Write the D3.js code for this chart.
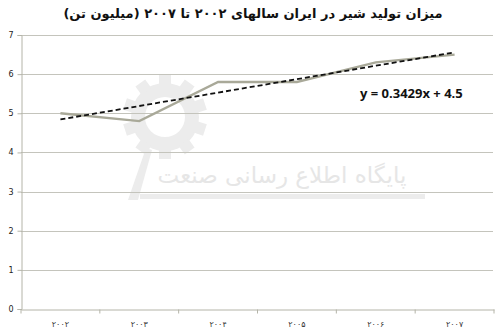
<!DOCTYPE html>
<html>
<head>
<meta charset="utf-8">
<script src="https://cdn.jsdelivr.net/npm/d3@7"></script>
<style>
  body { margin: 0; background: #fff; }
  svg { display: block; }
</style>
</head>
<body>
<div id="chart"></div>
<script>
// chart data
const years = ["۲۰۰۲", "۲۰۰۳", "۲۰۰۴", "۲۰۰۵", "۲۰۰۶", "۲۰۰۷"];
const production = [5.0, 4.8, 5.8, 5.8, 6.3, 6.5];
const yTicks = [0, 1, 2, 3, 4, 5, 6, 7];
const title = "میزان تولید شیر در ایران سالهای ۲۰۰۲ تا ۲۰۰۷  (میلیون تن)";
const watermarkText = "پایگاه اطلاع رسانی صنعت";

const W = 500, H = 336;
const margin = {top: 35, right: 6, bottom: 27, left: 21};

const svg = d3.select("#chart").append("svg")
    .attr("width", W)
    .attr("height", H);

const x = d3.scaleBand()
    .domain(years)
    .range([margin.left, W - margin.right]);

const y = d3.scaleLinear()
    .domain([0, 7])
    .range([H - margin.bottom, margin.top]);

// faint watermark (gear + text)
const wm = svg.append("g").attr("fill", "#ececec");
const gearR = 34;
const gear = wm.append("g").attr("transform", "translate(165,117)");
gear.append("path")
    .attr("d", d3.arc()({innerRadius: 20, outerRadius: gearR, startAngle: 0, endAngle: 2 * Math.PI}));
d3.range(10).forEach(i => {
    gear.append("rect")
        .attr("x", -6).attr("y", -gearR - 8)
        .attr("width", 12).attr("height", 10)
        .attr("transform", `rotate(${i * 36})`);
});
wm.append("path")
    .attr("d", "M128,200 L138,200 L152,150 L146,148 Z");
wm.append("rect")
    .attr("x", 140).attr("y", 194).attr("width", 285).attr("height", 5);
wm.append("text")
    .attr("x", 282).attr("y", 183)
    .attr("text-anchor", "middle")
    .style("font-family", "'DejaVu Sans', sans-serif")
    .style("font-size", "23px")
    .attr("fill", "#e6e6e6")
    .text(watermarkText);

// gridlines
svg.append("g")
    .selectAll("line")
    .data(yTicks.filter(d => d > 0))
    .join("line")
    .attr("x1", margin.left)
    .attr("x2", W - margin.right - 1)
    .attr("y1", d => Math.round(y(d)) + 0.5)
    .attr("y2", d => Math.round(y(d)) + 0.5)
    .attr("stroke", "#c4c4bc")
    .attr("stroke-width", 1.2);

// y axis
const yAxis = svg.append("g")
    .attr("transform", `translate(${margin.left + 0.5},0)`)
    .call(d3.axisLeft(y).tickValues(yTicks).tickSize(4).tickFormat(d3.format("d")));
yAxis.select(".domain").attr("stroke", "#b4b4a8");
yAxis.selectAll(".tick line").attr("stroke", "#b4b4a8");
yAxis.selectAll(".tick text")
    .attr("x", -8)
    .style("font-family", "'DejaVu Sans', sans-serif")
    .style("font-size", "8px")
    .attr("fill", "#222");

// x axis
const xAxis = svg.append("g")
    .attr("transform", `translate(0,${Math.round(y(0)) + 0.5})`)
    .call(d3.axisBottom(x).tickSize(0).tickPadding(12));
xAxis.select(".domain").attr("stroke", "#b4b4a8");
xAxis.selectAll(".tick text")
    .style("font-family", "'DejaVu Sans', sans-serif")
    .style("font-size", "8px")
    .attr("fill", "#333");
// category separators
xAxis.append("g")
    .selectAll("line")
    .data(years.concat(["end"]))
    .join("line")
    .attr("x1", (d, i) => margin.left + i * x.bandwidth())
    .attr("x2", (d, i) => margin.left + i * x.bandwidth())
    .attr("y1", 0)
    .attr("y2", 4)
    .attr("stroke", "#b4b4a8");

// data line
const line = d3.line()
    .x((d, i) => x(years[i]) + x.bandwidth() / 2)
    .y(d => y(d));

svg.append("path")
    .datum(production)
    .attr("d", line)
    .attr("fill", "none")
    .attr("stroke", "#a9a999")
    .attr("stroke-width", 2.4);

// linear trendline (least squares on index 1..n)
const xs = production.map((d, i) => i + 1);
const mx = d3.mean(xs), my = d3.mean(production);
const slope = d3.sum(xs, (d, i) => (d - mx) * (production[i] - my)) / d3.sum(xs, d => (d - mx) ** 2);
const intercept = my - slope * mx;
const trend = xs.map(d => slope * d + intercept);

svg.append("path")
    .datum(trend)
    .attr("d", line)
    .attr("fill", "none")
    .attr("stroke", "#111")
    .attr("stroke-width", 1.8)
    .attr("stroke-dasharray", "5,3");

svg.append("text")
    .attr("x", 360)
    .attr("y", 98)
    .style("font-family", "'Open Sans', sans-serif")
    .style("font-size", "13px")
    .style("font-weight", "bold")
    .attr("fill", "#111")
    .text(`y = ${slope.toFixed(4)}x + ${intercept.toFixed(1)}`);

// title
svg.append("text")
    .attr("x", 253)
    .attr("y", 18)
    .attr("text-anchor", "middle")
    .attr("direction", "rtl")
    .style("font-family", "'DejaVu Sans', sans-serif")
    .style("font-size", "13px")
    .style("font-weight", "bold")
    .attr("fill", "#111")
    .text(title);
</script>
</body>
</html>
